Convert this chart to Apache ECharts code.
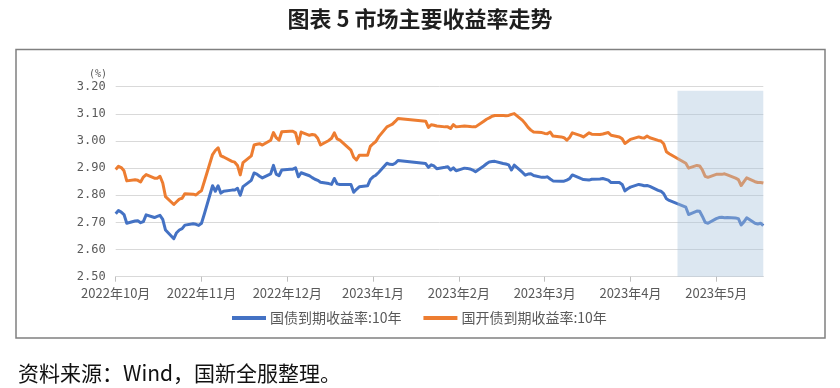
<!DOCTYPE html>
<html><head><meta charset="utf-8">
<script src="https://cdn.jsdelivr.net/npm/echarts@6/dist/echarts.min.js"></script>
<style>html,body{margin:0;padding:0;background:#fff}#c{width:840px;height:388px}</style>
</head><body><div id="c"></div>
<script>
// ---- data ----
const dates = [
'2022-10-10','2022-10-11','2022-10-12','2022-10-13','2022-10-14','2022-10-17','2022-10-18','2022-10-19','2022-10-20','2022-10-21','2022-10-24','2022-10-25','2022-10-26','2022-10-27','2022-10-28','2022-10-31',
'2022-11-01','2022-11-02','2022-11-03','2022-11-04','2022-11-07','2022-11-08','2022-11-09','2022-11-10','2022-11-11','2022-11-14','2022-11-15','2022-11-16','2022-11-17','2022-11-18','2022-11-21','2022-11-22','2022-11-23','2022-11-24','2022-11-25','2022-11-28','2022-11-29','2022-11-30',
'2022-12-01','2022-12-02','2022-12-05','2022-12-06','2022-12-07','2022-12-08','2022-12-09','2022-12-12','2022-12-13','2022-12-14','2022-12-15','2022-12-16','2022-12-19','2022-12-20','2022-12-21','2022-12-22','2022-12-23','2022-12-26','2022-12-27','2022-12-28','2022-12-29','2022-12-30',
'2023-01-03','2023-01-04','2023-01-05','2023-01-06','2023-01-09','2023-01-10','2023-01-11','2023-01-12','2023-01-13','2023-01-16','2023-01-17','2023-01-18','2023-01-19','2023-01-20','2023-01-30','2023-01-31',
'2023-02-01','2023-02-02','2023-02-03','2023-02-06','2023-02-07','2023-02-08','2023-02-09','2023-02-10','2023-02-13','2023-02-14','2023-02-15','2023-02-16','2023-02-17','2023-02-20','2023-02-21','2023-02-22','2023-02-23','2023-02-24','2023-02-27','2023-02-28',
'2023-03-01','2023-03-02','2023-03-03','2023-03-06','2023-03-07','2023-03-08','2023-03-09','2023-03-10','2023-03-13','2023-03-14','2023-03-15','2023-03-16','2023-03-17','2023-03-20','2023-03-21','2023-03-22','2023-03-23','2023-03-24','2023-03-27','2023-03-28','2023-03-29','2023-03-30','2023-03-31',
'2023-04-03','2023-04-04','2023-04-06','2023-04-07','2023-04-10','2023-04-11','2023-04-12','2023-04-13','2023-04-14','2023-04-17','2023-04-18','2023-04-19','2023-04-20','2023-04-21','2023-04-24','2023-04-25','2023-04-26','2023-04-27','2023-04-28',
'2023-05-04','2023-05-05','2023-05-08','2023-05-09','2023-05-10','2023-05-11','2023-05-12','2023-05-15','2023-05-16','2023-05-17','2023-05-18','2023-05-19','2023-05-22','2023-05-23','2023-05-24','2023-05-25','2023-05-26','2023-05-29','2023-05-30','2023-05-31',
'2023-06-01'
];
// 国债到期收益率:10年
const cgb10y = [
2.732,2.744,2.738,2.729,2.697,2.705,2.706,2.699,2.703,2.728,2.718,2.722,2.726,2.711,2.672,2.640,
2.662,2.672,2.677,2.690,2.695,2.693,2.689,2.697,2.730,2.835,2.815,2.835,2.808,2.815,2.819,2.819,2.826,2.800,2.832,2.855,2.882,2.878,
2.870,2.864,2.879,2.910,2.878,2.872,2.893,2.896,2.896,2.901,2.868,2.883,2.872,2.865,2.859,2.855,2.848,2.843,2.840,2.862,2.842,2.840,
2.840,2.811,2.822,2.831,2.835,2.858,2.868,2.874,2.884,2.918,2.914,2.913,2.918,2.928,2.917,2.903,
2.912,2.908,2.898,2.903,2.905,2.893,2.901,2.890,2.900,2.899,2.897,2.893,2.887,2.908,2.916,2.923,2.924,2.925,2.917,2.915,
2.912,2.893,2.911,2.884,2.874,2.878,2.879,2.873,2.866,2.866,2.868,2.860,2.853,2.852,2.852,2.856,2.861,2.875,2.862,2.858,2.857,2.856,2.859,
2.860,2.862,2.856,2.847,2.847,2.840,2.816,2.824,2.830,2.840,2.838,2.835,2.836,2.833,2.818,2.815,2.806,2.787,2.781,
2.756,2.729,2.742,2.741,2.722,2.700,2.697,2.714,2.718,2.719,2.717,2.718,2.716,2.714,2.691,2.702,2.717,2.697,2.694,2.697,
2.688
];
// 国开债到期收益率:10年
const cdb10y = [
2.895,2.907,2.902,2.890,2.853,2.857,2.855,2.849,2.867,2.876,2.863,2.863,2.870,2.845,2.795,2.766,
2.776,2.786,2.789,2.806,2.804,2.801,2.810,2.817,2.850,2.950,2.965,2.975,2.945,2.941,2.925,2.922,2.910,2.875,2.920,2.945,2.985,2.988,
2.990,2.985,3.003,3.031,3.012,3.003,3.034,3.036,3.036,3.030,2.990,3.033,3.021,3.024,3.022,3.010,2.985,3.002,3.010,3.030,3.008,3.003,
2.966,2.940,2.930,2.947,2.947,2.980,2.990,2.998,3.015,3.052,3.057,3.062,3.072,3.083,3.073,3.050,
3.060,3.058,3.055,3.052,3.052,3.046,3.060,3.052,3.055,3.054,3.053,3.052,3.052,3.073,3.080,3.085,3.091,3.094,3.094,3.093,
3.094,3.098,3.101,3.076,3.064,3.050,3.040,3.033,3.031,3.028,3.027,3.033,3.018,3.015,3.012,3.003,3.013,3.030,3.020,3.015,3.022,3.030,3.025,
3.024,3.026,3.031,3.021,3.015,3.008,2.991,2.998,3.006,3.015,3.012,3.011,3.018,3.012,3.002,3.000,2.990,2.960,2.953,
2.918,2.900,2.910,2.908,2.893,2.870,2.866,2.877,2.877,2.877,2.879,2.875,2.863,2.858,2.836,2.850,2.864,2.850,2.847,2.847,
2.845
];
const seriesNames = ['国债到期收益率:10年', '国开债到期收益率:10年'];
const monthLabels = ['2022年10月','2022年11月','2022年12月','2023年1月','2023年2月','2023年3月','2023年4月','2023年5月'];
const yTicks = [2.50, 2.60, 2.70, 2.80, 2.90, 3.00, 3.10, 3.20];
const axisStart = '2022-10-10';
const axisEnd = '2023-06-01';
const labelStepDays = 31;
const highlightStart = '2023-05-01';
const titleText = '图表 5 市场主要收益率走势';
const sourceText = '资料来源：Wind，国新全服整理。';

// ---- helpers ----
const DAY = 86400000;
const t0 = Date.parse(axisStart + 'T00:00:00Z');
const dayOf = s => Math.round((Date.parse(s + 'T00:00:00Z') - t0) / DAY);
const xMax = dayOf(axisEnd);
const tickDays = monthLabels.map((_, i) => i * labelStepDays);
const blueData = dates.map((d, i) => [dayOf(d), cgb10y[i]]);
const orangeData = dates.map((d, i) => [dayOf(d), cdb10y[i]]);

const chart = echarts.init(document.getElementById('c'), null, {renderer: 'canvas'});
const cjk = '"Noto Sans CJK SC", "Noto Sans", sans-serif';
chart.setOption({
  animation: false,
  backgroundColor: '#ffffff',
  title: {
    text: titleText, left: 'center', top: 3,
    textStyle: {fontFamily: cjk, fontSize: 22, fontWeight: 'bold', color: '#1e1e1e'}
  },
  grid: {left: 115.7, right: 76.7, top: 86.7, bottom: 111.3, containLabel: false},
  legend: {
    data: seriesNames, left: 232, top: 311, padding: 0,
    itemWidth: 34, itemHeight: 4, itemGap: 22, icon: 'rect',
    textStyle: {fontFamily: cjk, fontSize: 14, color: '#595959', padding: [0, 0, 0, -1]}
  },
  xAxis: {
    type: 'value', min: 0, max: xMax, interval: labelStepDays,
    splitLine: {show: false},
    axisLine: {show: true, lineStyle: {color: '#d9d9d9', width: 1}},
    axisTick: {show: true, length: 5, lineStyle: {color: '#bfbfbf'}, customValues: tickDays},
    axisLabel: {
      customValues: tickDays, margin: 10,
      fontFamily: cjk, fontSize: 13, color: '#595959',
      formatter: v => (v % labelStepDays === 0 && monthLabels[v / labelStepDays]) ? monthLabels[v / labelStepDays] : ''
    }
  },
  yAxis: {
    type: 'value', min: yTicks[0], max: yTicks[yTicks.length - 1], interval: 0.1,
    axisLine: {show: false}, axisTick: {show: false},
    splitLine: {show: true, lineStyle: {color: '#d9d9d9', width: 1}},
    axisLabel: {
      margin: 10, fontFamily: '"DejaVu Sans Mono", monospace', fontSize: 12, color: '#595959',
      formatter: v => v.toFixed(2)
    }
  },
  series: [
    {name: seriesNames[0], type: 'line', data: blueData, showSymbol: false, z: 2,
     lineStyle: {color: '#4472c4', width: 3, join: 'round'}, itemStyle: {color: '#4472c4'}},
    {name: seriesNames[1], type: 'line', data: orangeData, showSymbol: false, z: 2,
     lineStyle: {color: '#ed7d31', width: 3, join: 'round'}, itemStyle: {color: '#ed7d31'}},
    {name: 'shade', type: 'line', data: [], z: 5, silent: true,
     markArea: {silent: true, z: 10, itemStyle: {color: 'rgba(167,195,220,0.4)'},
       data: [[{xAxis: dayOf(highlightStart), yAxis: 3.185}, {xAxis: xMax, yAxis: yTicks[0]}]]}}
  ],
  graphic: [
    {type: 'rect', shape: {x: 16, y: 49.5, width: 809, height: 288.5},
     style: {fill: 'none', stroke: '#808080', lineWidth: 1.5}, silent: true},
    {type: 'text', x: 107, y: 74,
     style: {text: '(%)', font: '10px "DejaVu Sans Mono", monospace', fill: '#595959', align: 'right', verticalAlign: 'middle'}},
    {type: 'text', x: 18, y: 373,
     style: {text: sourceText, font: '21px ' + cjk, fill: '#111111', verticalAlign: 'middle'}}
  ]
});
</script>
</body></html>
